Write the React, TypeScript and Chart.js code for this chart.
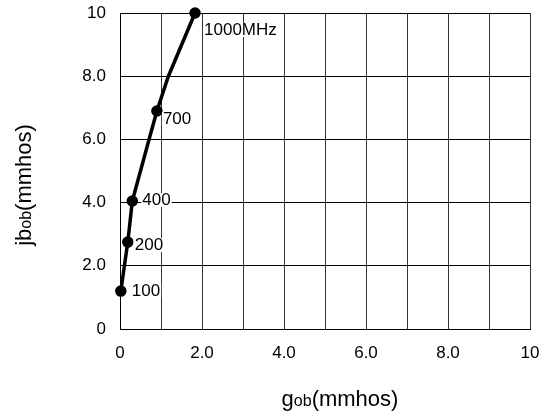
import { useEffect, useRef } from 'react';
import { Chart, registerables } from 'chart.js';

Chart.register(...registerables);

// Frequency labels (empty = unlabelled intermediate point)
const freqLabels = ['100', '200', '400', '', '700', '', '1000MHz'];
// g_ob (mmhos)
const gValues = [0.02, 0.19, 0.3, 0.72, 0.9, 1.18, 1.83];
// jb_ob (mmhos)
const bValues = [1.2, 2.75, 4.05, 6.05, 6.9, 8.0, 10];
const markerShown = [true, true, true, false, true, false, true];

const xTickLabels = ['0', '2.0', '4.0', '6.0', '8.0', '10'];
const yTickLabels = ['0', '2.0', '4.0', '6.0', '8.0', '10'];

const FONT = '"Liberation Sans", Arial, sans-serif';

// label offsets (px) relative to their point
const labelOffsets: Record<string, [number, number]> = {
  '100': [11, 0],
  '200': [7, 3],
  '400': [10, -1],
  '700': [6, 8],
  '1000MHz': [9, 17],
};

const overlayPlugin = {
  id: 'overlay',
  afterDatasetsDraw(chart: any) {
    const ctx = chart.ctx as CanvasRenderingContext2D;
    const meta = chart.getDatasetMeta(0);
    ctx.save();
    ctx.font = `17px ${FONT}`;
    ctx.textBaseline = 'middle';
    ctx.textAlign = 'left';
    meta.data.forEach((pt: any, i: number) => {
      const lab = freqLabels[i];
      if (!lab) return;
      const off = labelOffsets[lab] || [8, 0];
      const x = pt.x + off[0];
      const y = pt.y + off[1];
      const w = ctx.measureText(lab).width;
      ctx.fillStyle = '#ffffff';
      ctx.fillRect(x - 1, y - 7, w + 2, 14);
      ctx.fillStyle = '#000000';
      ctx.fillText(lab, x, y);
    });
    ctx.restore();
  },
  afterDraw(chart: any) {
    const ctx = chart.ctx as CanvasRenderingContext2D;
    const big = `22px ${FONT}`;
    const small = `16px ${FONT}`;
    const drawMixed = (parts: [string, string][], cx: number, baseY: number) => {
      let total = 0;
      parts.forEach(([t, f]) => {
        ctx.font = f;
        total += ctx.measureText(t).width;
      });
      let x = cx - total / 2;
      parts.forEach(([t, f]) => {
        ctx.font = f;
        ctx.fillText(t, x, baseY);
        x += ctx.measureText(t).width;
      });
    };
    ctx.save();
    ctx.fillStyle = '#000000';
    ctx.textBaseline = 'alphabetic';
    ctx.textAlign = 'left';
    // x title
    drawMixed([['g', big], ['ob', small], ['(mmhos)', big]], 340, 406);
    // y title
    ctx.translate(31, 185);
    ctx.rotate(-Math.PI / 2);
    drawMixed([['jb', big], ['ob', small], ['(mmhos)', big]], 0, 0);
    ctx.restore();
  },
};

export default function App() {
  const ref = useRef<HTMLCanvasElement | null>(null);

  useEffect(() => {
    if (!ref.current) return;
    const chart = new Chart(ref.current, {
      type: 'line',
      data: {
        datasets: [
          {
            data: gValues.map((g, i) => ({ x: g, y: bValues[i] })),
            borderColor: '#000000',
            backgroundColor: '#000000',
            borderWidth: 3.5,
            pointRadius: markerShown.map((m) => (m ? 4 : 0)),
            pointBackgroundColor: '#000000',
            pointBorderColor: '#000000',
            tension: 0,
            clip: false as any,
          },
        ],
      },
      options: {
        responsive: false,
        animation: false,
        layout: { padding: { top: 13, right: 18, left: 0, bottom: 0 } },
        plugins: {
          legend: { display: false },
          tooltip: { enabled: false },
          title: { display: false },
        },
        scales: {
          x: {
            type: 'linear',
            min: 0,
            max: 10,
            afterFit: (s: any) => {
              s.height = 87;
              s.paddingLeft = 0;
              s.paddingRight = 0;
              s.paddingTop = 0;
              s.paddingBottom = 0;
            },
            ticks: {
              stepSize: 1,
              padding: 14,
              color: '#000000',
              font: { family: FONT, size: 17 },
              maxRotation: 0,
              autoSkip: false,
              callback: (v: any) => (Number(v) % 2 === 0 ? xTickLabels[Number(v) / 2] : ''),
            },
            grid: { color: '#333333', lineWidth: 1, drawTicks: false },
            border: { color: '#000000', width: 1 },
          },
          y: {
            type: 'linear',
            min: 0,
            max: 10,
            afterFit: (s: any) => {
              s.width = 120;
              s.paddingLeft = 0;
              s.paddingRight = 0;
              s.paddingTop = 0;
              s.paddingBottom = 0;
            },
            ticks: {
              stepSize: 2,
              padding: 14,
              color: '#000000',
              font: { family: FONT, size: 17 },
              autoSkip: false,
              callback: (v: any) => yTickLabels[Math.round(Number(v) / 2)],
            },
            grid: { color: '#000000', lineWidth: 1, drawTicks: false },
            border: { color: '#000000', width: 1 },
          },
        },
      },
      plugins: [overlayPlugin],
    });
    return () => chart.destroy();
  }, []);

  return (
    <div style={{ position: 'absolute', left: 0, top: 0, width: 548, height: 416, background: '#fff' }}>
      <canvas ref={ref} width={548} height={416} style={{ display: 'block' }} />
    </div>
  );
}
